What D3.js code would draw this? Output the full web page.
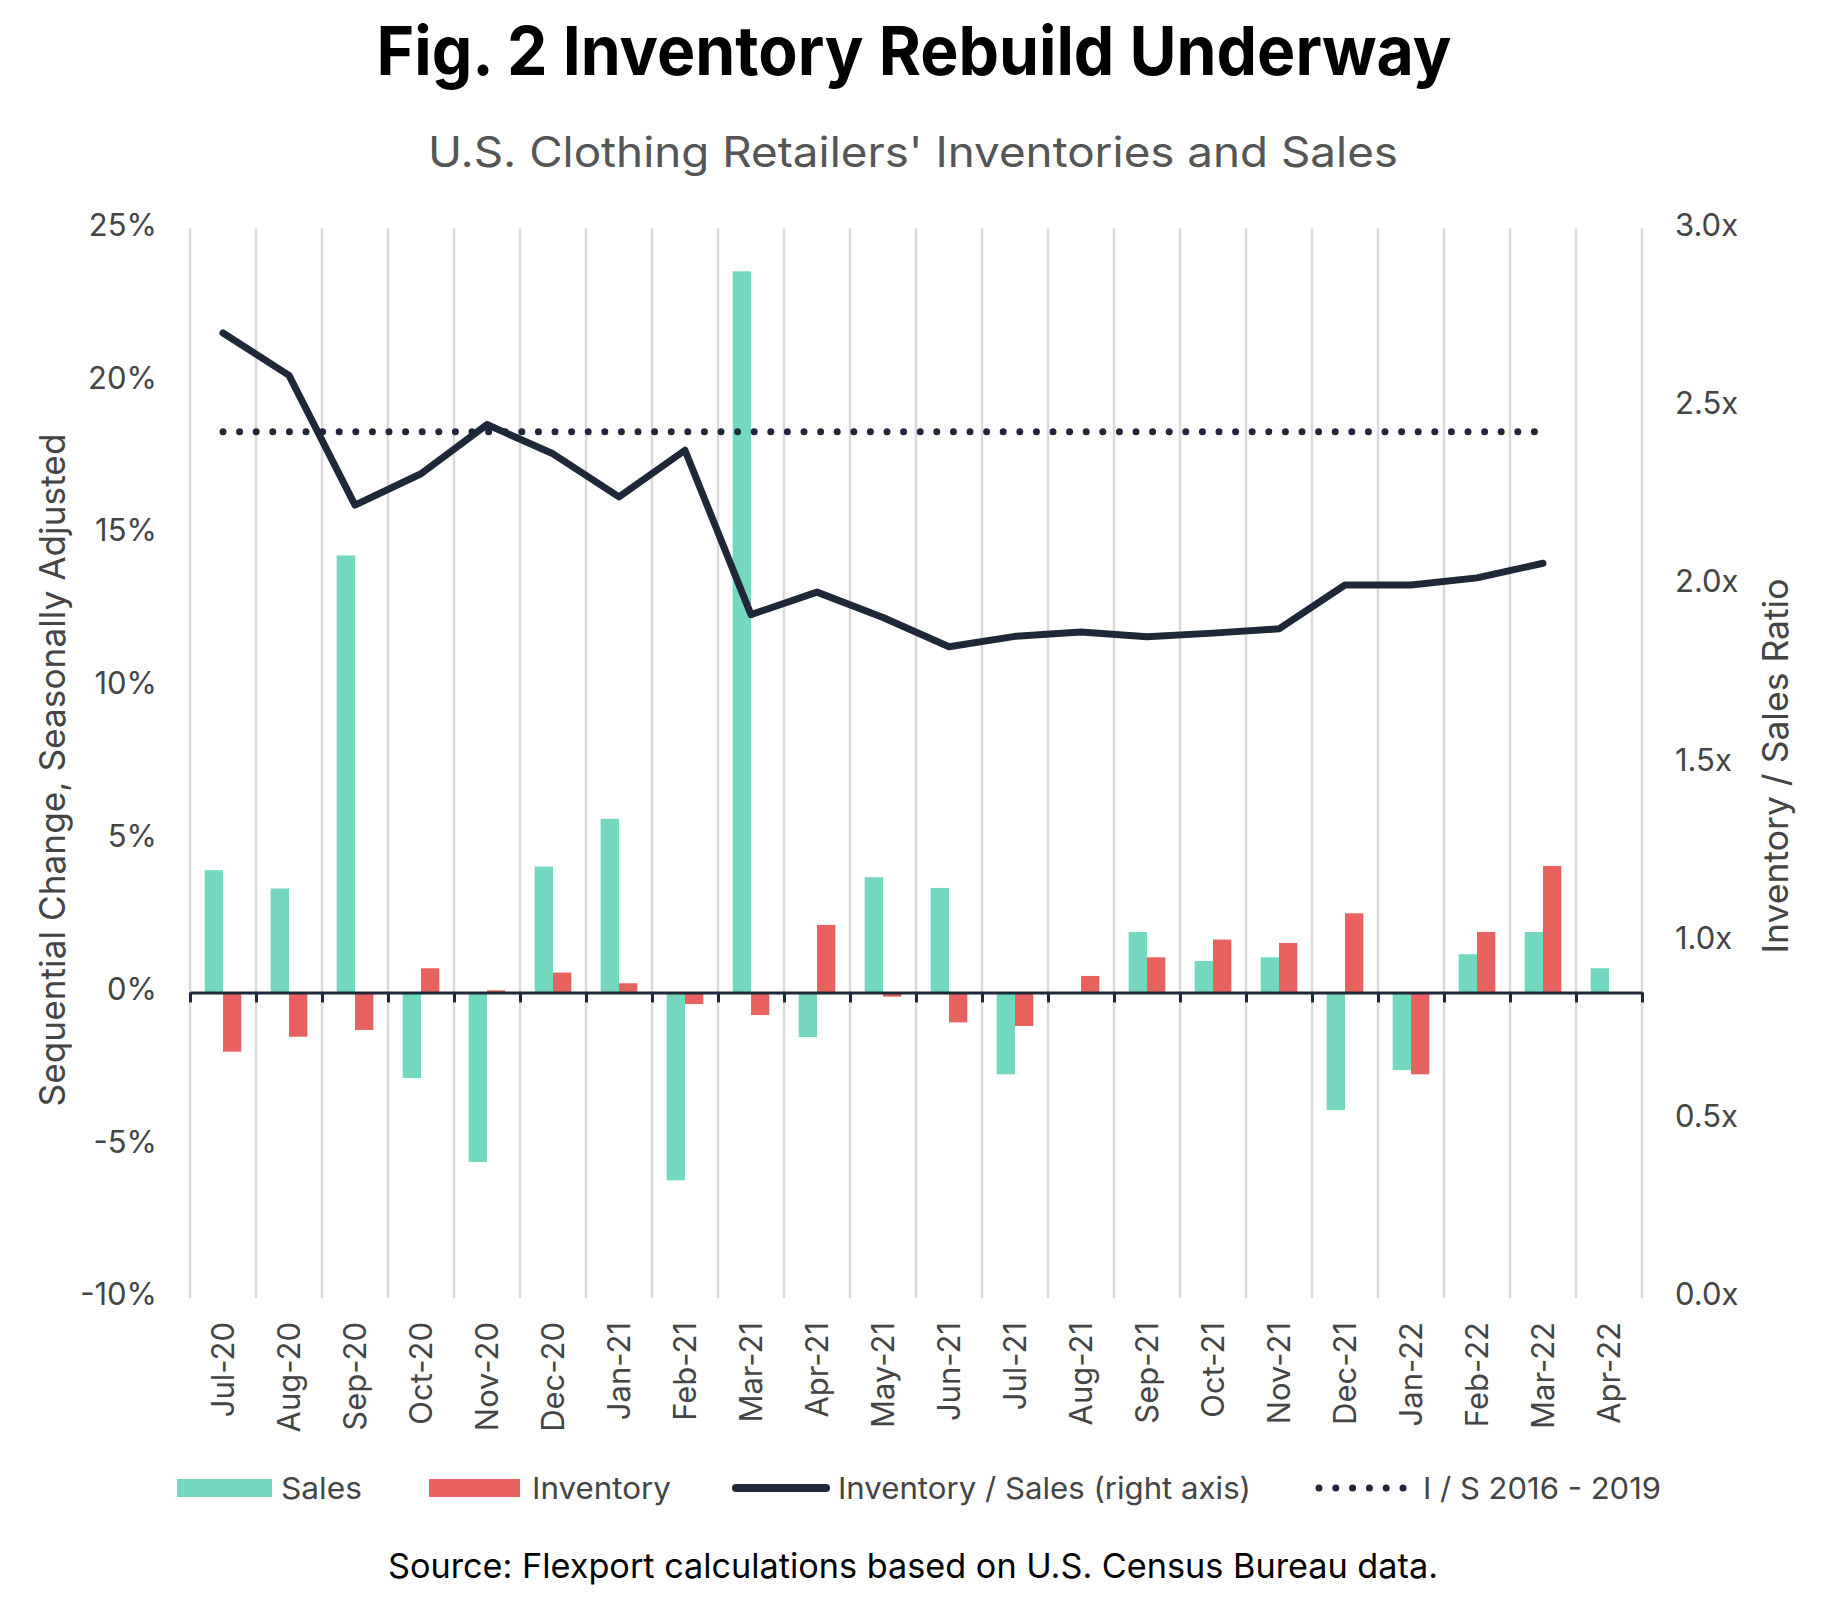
<!DOCTYPE html>
<html>
<head>
<meta charset="utf-8">
<script src="https://cdn.jsdelivr.net/npm/d3@7"></script>
<style>
  body { margin: 0; background: #fff; }
  text { font-family: Inter, "Noto Sans", sans-serif; }
</style>
</head>
<body>
<div id="chart"></div>
<script>
// values
const months = ["Jul-20", "Aug-20", "Sep-20", "Oct-20", "Nov-20", "Dec-20", "Jan-21", "Feb-21",
  "Mar-21", "Apr-21", "May-21", "Jun-21", "Jul-21", "Aug-21", "Sep-21", "Oct-21", "Nov-21",
  "Dec-21", "Jan-22", "Feb-22", "Mar-22", "Apr-22"];
const sales = [4.0, 3.4, 14.3, -2.8, -5.55, 4.12, 5.68, -6.15, 23.6, -1.46, 3.77, 3.42,
  -2.68, 0.0, 1.98, 1.03, 1.15, -3.85, -2.54, 1.25, 1.98, 0.79];
const inventory = [-1.94, -1.45, -1.23, 0.79, 0.07, 0.65, 0.3, -0.38, -0.74, 2.21, -0.14, -0.98,
  -1.1, 0.54, 1.15, 1.73, 1.62, 2.59, -2.68, 1.98, 4.14, null];
const ratio = [2.707, 2.588, 2.224, 2.312, 2.45, 2.368, 2.247, 2.378, 1.917, 1.98, 1.909, 1.827,
  1.856, 1.868, 1.855, 1.865, 1.877, 2.0, 2.0, 2.02, 2.061, null];
const benchmark = 2.43;
const benchmarkMonths = ["Jul-20", "Mar-22"];
const leftTicks = [-10, -5, 0, 5, 10, 15, 20, 25];
const rightTicks = [0, 0.5, 1, 1.5, 2, 2.5, 3];

const width = 1845, height = 1598;
const plot = { left: 190, right: 1642, top: 228.5, bottom: 1298 };

const svg = d3.select("#chart").append("svg")
  .attr("width", width)
  .attr("height", height);

const x = d3.scaleBand().domain(months).range([plot.left, plot.right]);
const xs = d3.scaleBand().domain(["sales", "inventory"]).range([0, x.bandwidth()]).paddingOuter(0.8);
const y = d3.scaleLinear().domain([-10, 25]).range([plot.bottom, plot.top]);
const y2 = d3.scaleLinear().domain([0, 3]).range([plot.bottom, plot.top]);

// vertical gridlines at category boundaries
const edges = months.map(m => x(m)).concat([plot.right]);
svg.append("g")
  .selectAll("line")
  .data(edges)
  .join("line")
  .attr("x1", d => d).attr("x2", d => d)
  .attr("y1", plot.top).attr("y2", plot.bottom)
  .attr("stroke", "#d9d9d9")
  .attr("stroke-width", 2.5);

// bars
const rows = months.map((m, i) => ({ m, sales: sales[i], inventory: inventory[i] }));
const colors = { sales: "#74d7bf", inventory: "#e8635f" };
["sales", "inventory"].forEach(key => {
  svg.append("g")
    .selectAll("rect")
    .data(rows.filter(d => d[key] != null))
    .join("rect")
    .attr("x", d => x(d.m) + xs(key))
    .attr("width", xs.bandwidth())
    .attr("y", d => y(Math.max(0, d[key])))
    .attr("height", d => Math.abs(y(d[key]) - y(0)))
    .attr("fill", colors[key]);
});

// zero axis with ticks at boundaries
const xb = d3.scaleLinear().domain([0, months.length]).range([plot.left, plot.right]);
const zeroAxis = svg.append("g")
  .attr("transform", "translate(0," + y(0) + ")")
  .call(d3.axisBottom(xb).ticks(months.length).tickFormat("").tickSize(10).tickSizeOuter(0));
zeroAxis.select(".domain").attr("stroke", "#1e2838").attr("stroke-width", 3);
zeroAxis.selectAll(".tick line").attr("stroke", "#1e2838").attr("stroke-width", 3);

// month labels
const xAxis = svg.append("g")
  .attr("transform", "translate(0," + plot.bottom + ")")
  .call(d3.axisBottom(x).tickSize(0));
xAxis.select(".domain").remove();
xAxis.selectAll("text")
  .attr("transform", "rotate(-90)")
  .attr("text-anchor", "end")
  .attr("x", -24)
  .attr("y", 0)
  .attr("dy", "0.36em")
  .attr("font-size", 31)
  .attr("fill", "#444");

// left axis
const yAxis = svg.append("g")
  .attr("transform", "translate(157,-3)")
  .call(d3.axisLeft(y).tickValues(leftTicks).tickFormat(d => d + "%").tickSize(0).tickPadding(0));
yAxis.select(".domain").remove();
yAxis.selectAll("text").attr("font-size", 31).attr("fill", "#444");

// right axis
const y2Axis = svg.append("g")
  .attr("transform", "translate(1675,-3)")
  .call(d3.axisRight(y2).tickValues(rightTicks).tickFormat(d => d3.format(".1f")(d) + "x").tickSize(0).tickPadding(0));
y2Axis.select(".domain").remove();
y2Axis.selectAll("text").attr("font-size", 31).attr("fill", "#444");

// benchmark dotted line
svg.append("path")
  .datum(benchmarkMonths)
  .attr("d", d3.line().x(m => x(m) + x.bandwidth() / 2).y(() => y2(benchmark)))
  .attr("fill", "none")
  .attr("stroke", "#1e2838")
  .attr("stroke-width", 7)
  .attr("stroke-linecap", "round")
  .attr("stroke-dasharray", "0,16.6");

// ratio line
const ratioLine = d3.line()
  .defined(d => d.r != null)
  .x(d => x(d.m) + x.bandwidth() / 2)
  .y(d => y2(d.r));
svg.append("path")
  .datum(months.map((m, i) => ({ m, r: ratio[i] })))
  .attr("d", ratioLine)
  .attr("fill", "none")
  .attr("stroke", "#1e2838")
  .attr("stroke-width", 7)
  .attr("stroke-linejoin", "round")
  .attr("stroke-linecap", "round");

// titles
svg.append("text")
  .attr("x", 914).attr("y", 75)
  .attr("text-anchor", "middle")
  .attr("font-size", 68).attr("font-weight", 700)
  .attr("textLength", 1075).attr("lengthAdjust", "spacingAndGlyphs")
  .attr("fill", "#000")
  .text("Fig. 2 Inventory Rebuild Underway");

svg.append("text")
  .attr("x", 913).attr("y", 167)
  .attr("text-anchor", "middle")
  .attr("font-size", 42)
  .attr("textLength", 970).attr("lengthAdjust", "spacingAndGlyphs")
  .attr("fill", "#555")
  .text("U.S. Clothing Retailers' Inventories and Sales");

svg.append("text")
  .attr("transform", "translate(53,770) rotate(-90)")
  .attr("text-anchor", "middle")
  .attr("dy", "0.35em")
  .attr("font-size", 35)
  .attr("textLength", 673).attr("lengthAdjust", "spacingAndGlyphs")
  .attr("fill", "#444")
  .text("Sequential Change, Seasonally Adjusted");

svg.append("text")
  .attr("transform", "translate(1776,766) rotate(-90)")
  .attr("text-anchor", "middle")
  .attr("dy", "0.35em")
  .attr("font-size", 35)
  .attr("textLength", 375).attr("lengthAdjust", "spacingAndGlyphs")
  .attr("fill", "#444")
  .text("Inventory / Sales Ratio");

// legend
const legendY = 1488;
const legend = svg.append("g");
legend.append("rect").attr("x", 177).attr("y", legendY - 9).attr("width", 95).attr("height", 18).attr("fill", colors.sales);
legend.append("rect").attr("x", 429).attr("y", legendY - 9).attr("width", 91).attr("height", 18).attr("fill", colors.inventory);
legend.append("line").attr("x1", 736).attr("x2", 826).attr("y1", legendY).attr("y2", legendY)
  .attr("stroke", "#1e2838").attr("stroke-width", 8).attr("stroke-linecap", "round");
legend.append("line").attr("x1", 1319).attr("x2", 1404).attr("y1", legendY).attr("y2", legendY)
  .attr("stroke", "#1e2838").attr("stroke-width", 7).attr("stroke-linecap", "round")
  .attr("stroke-dasharray", "0,16.8");

const legendItems = [
  { t: "Sales", x: 281, w: 81 },
  { t: "Inventory", x: 532, w: 139 },
  { t: "Inventory / Sales (right axis)", x: 838, w: 413 },
  { t: "I / S 2016 - 2019", x: 1423, w: 238 }
];
legend.selectAll("text.lg")
  .data(legendItems)
  .join("text")
  .attr("class", "lg")
  .attr("x", d => d.x).attr("y", legendY)
  .attr("dy", "0.35em")
  .attr("font-size", 30)
  .attr("textLength", d => d.w).attr("lengthAdjust", "spacingAndGlyphs")
  .attr("fill", "#444")
  .text(d => d.t);

svg.append("text")
  .attr("x", 913).attr("y", 1578)
  .attr("text-anchor", "middle")
  .attr("font-size", 34)
  .attr("textLength", 1050).attr("lengthAdjust", "spacingAndGlyphs")
  .attr("fill", "#000")
  .text("Source: Flexport calculations based on U.S. Census Bureau data.");
</script>
</body>
</html>
